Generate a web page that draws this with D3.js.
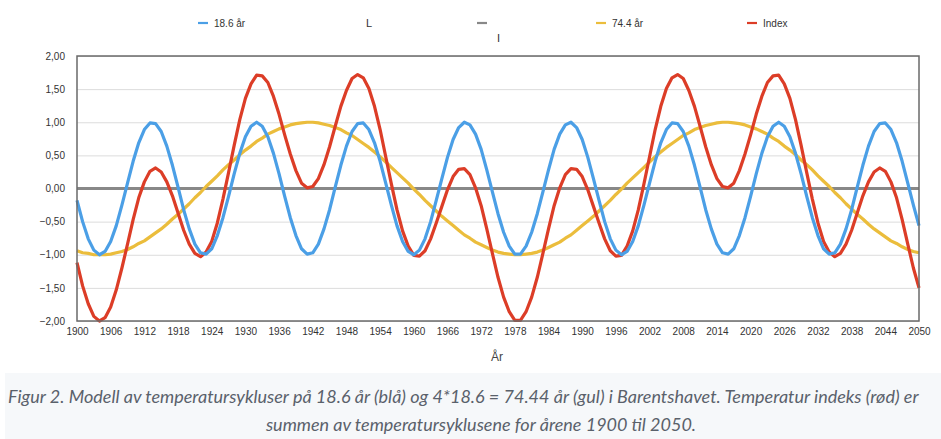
<!DOCTYPE html>
<html>
<head>
<meta charset="utf-8">
<style>
  html, body { margin: 0; padding: 0; background: #fff; overflow: hidden; }
  svg { display: block; }
</style>
</head>
<body>
<svg id="chart" width="941" height="439"></svg>
<script src="https://d3js.org/d3.v7.min.js"></script>
<script>

// years 1900..2050, one value per year
var startYear = 1900;

var blue = [
  -0.18,-0.50,-0.76,-0.93,-1.00,-0.95,-0.80,-0.56,-0.25, 0.08,
   0.41, 0.69, 0.89, 0.99, 0.98, 0.86, 0.64, 0.35, 0.02,-0.32,
  -0.61,-0.84,-0.97,-0.99,-0.91,-0.71,-0.44,-0.12, 0.22, 0.53,
   0.78, 0.94, 1.00, 0.94, 0.78, 0.53, 0.22,-0.12,-0.44,-0.71,
  -0.91,-0.99,-0.97,-0.84,-0.61,-0.32, 0.02, 0.35, 0.64, 0.86,
   0.98, 0.99, 0.89, 0.69, 0.41, 0.08,-0.25,-0.56,-0.80,-0.95,
  -1.00,-0.93,-0.76,-0.50,-0.18, 0.15, 0.47, 0.74, 0.92, 1.00,
   0.96, 0.82, 0.59, 0.28,-0.05,-0.38,-0.66,-0.87,-0.99,-0.99,
  -0.87,-0.66,-0.38,-0.05, 0.28, 0.59, 0.82, 0.96, 1.00, 0.92,
   0.74, 0.47, 0.15,-0.18,-0.50,-0.76,-0.93,-1.00,-0.95,-0.80,
  -0.56,-0.25, 0.08, 0.41, 0.69, 0.89, 0.99, 0.98, 0.86, 0.64,
   0.35, 0.02,-0.32,-0.61,-0.84,-0.97,-0.99,-0.91,-0.71,-0.44,
  -0.12, 0.22, 0.53, 0.78, 0.94, 1.00, 0.94, 0.78, 0.53, 0.22,
  -0.12,-0.44,-0.71,-0.91,-0.99,-0.97,-0.84,-0.61,-0.32, 0.02,
   0.35, 0.64, 0.86, 0.98, 0.99, 0.89, 0.69, 0.41, 0.08,-0.25,
  -0.56
];

var yellow = [
  -0.94,-0.97,-0.98,-1.00,-1.00,-1.00,-0.99,-0.97,-0.95,-0.92,
  -0.88,-0.83,-0.79,-0.73,-0.67,-0.61,-0.54,-0.46,-0.39,-0.31,
  -0.23,-0.14,-0.06, 0.03, 0.11, 0.19, 0.28, 0.36, 0.43, 0.51,
   0.58, 0.64, 0.71, 0.76, 0.82, 0.86, 0.90, 0.93, 0.96, 0.98,
   0.99, 1.00, 1.00, 0.99, 0.97, 0.95, 0.92, 0.89, 0.84, 0.80,
   0.74, 0.68, 0.62, 0.55, 0.48, 0.40, 0.32, 0.24, 0.16, 0.08,
  -0.01,-0.09,-0.18,-0.26,-0.34,-0.42,-0.49,-0.56,-0.63,-0.70,
  -0.75,-0.81,-0.85,-0.89,-0.93,-0.96,-0.98,-0.99,-1.00,-1.00,
  -0.99,-0.98,-0.96,-0.93,-0.89,-0.85,-0.81,-0.75,-0.70,-0.63,
  -0.56,-0.49,-0.42,-0.34,-0.26,-0.18,-0.09,-0.01, 0.08, 0.16,
   0.24, 0.32, 0.40, 0.48, 0.55, 0.62, 0.68, 0.74, 0.80, 0.84,
   0.89, 0.92, 0.95, 0.97, 0.99, 1.00, 1.00, 0.99, 0.98, 0.96,
   0.93, 0.90, 0.86, 0.82, 0.76, 0.71, 0.64, 0.58, 0.51, 0.43,
   0.36, 0.28, 0.19, 0.11, 0.03,-0.06,-0.14,-0.23,-0.31,-0.39,
  -0.46,-0.54,-0.61,-0.67,-0.73,-0.79,-0.83,-0.88,-0.92,-0.95,
  -0.97
];

var index = [
  -1.12,-1.47,-1.74,-1.93,-2.00,-1.95,-1.79,-1.53,-1.20,-0.84,
  -0.47,-0.14, 0.10, 0.26, 0.31, 0.25, 0.10,-0.11,-0.37,-0.63,
  -0.84,-0.98,-1.03,-0.96,-0.80,-0.52,-0.16, 0.24, 0.65, 1.04,
   1.36, 1.58, 1.71, 1.70, 1.60, 1.39, 1.12, 0.81, 0.52, 0.27,
   0.08, 0.01, 0.03, 0.15, 0.36, 0.63, 0.94, 1.24, 1.48, 1.66,
   1.72, 1.67, 1.51, 1.24, 0.89, 0.48, 0.07,-0.32,-0.64,-0.87,
  -1.01,-1.02,-0.94,-0.76,-0.52,-0.27,-0.02, 0.18, 0.29, 0.30,
   0.21, 0.01,-0.26,-0.61,-0.98,-1.34,-1.64,-1.86,-1.99,-1.99,
  -1.86,-1.64,-1.34,-0.98,-0.61,-0.26, 0.01, 0.21, 0.30, 0.29,
   0.18,-0.02,-0.27,-0.52,-0.76,-0.94,-1.02,-1.01,-0.87,-0.64,
  -0.32, 0.07, 0.48, 0.89, 1.24, 1.51, 1.67, 1.72, 1.66, 1.48,
   1.24, 0.94, 0.63, 0.36, 0.15, 0.03, 0.01, 0.08, 0.27, 0.52,
   0.81, 1.12, 1.39, 1.60, 1.70, 1.71, 1.58, 1.36, 1.04, 0.65,
   0.24,-0.16,-0.52,-0.80,-0.96,-1.03,-0.98,-0.84,-0.63,-0.37,
  -0.11, 0.10, 0.25, 0.31, 0.26, 0.10,-0.14,-0.47,-0.84,-1.20,
  -1.50
];

var xTicks = d3.range(1900, 2051, 6);
var yTicks = [-2, -1.5, -1, -0.5, 0, 0.5, 1, 1.5, 2];

var caption1 = "Figur 2. Modell av temperatursykluser på 18.6 år (blå) og 4*18.6 = 74.44 år (gul) i Barentshavet. Temperatur indeks (rød) er";
var caption2 = "summen av temperatursyklusene for årene 1900 til 2050.";

var colors = { blue: "#4b9fe6", yellow: "#ebbd3c", red: "#dc3d27", zero: "#888" };

var svg = d3.select("#chart"),
    margin = {top: 56, right: 22, bottom: 118, left: 77},
    width = 941 - margin.left - margin.right,
    height = 439 - margin.top - margin.bottom,
    g = svg.append("g").attr("transform", "translate(" + margin.left + "," + margin.top + ")");

var x = d3.scaleLinear().domain([1900, 2050]).range([0, width]);
var y = d3.scaleLinear().domain([-2, 2]).range([height, 0]);

var fmt = function(d) { return d3.format(".2f")(d).replace(".", ",").replace("-", "\u2212"); };

// grid
g.append("g")
    .call(d3.axisLeft(y).tickValues(yTicks).tickSize(-width).tickFormat(""))
    .call(function(a) { a.select(".domain").remove(); })
    .selectAll("line")
      .attr("stroke", "#dcdcdc")
      .attr("stroke-width", 1);

// y axis labels
g.append("g")
    .call(d3.axisLeft(y).tickValues(yTicks).tickSize(0).tickPadding(12).tickFormat(fmt))
    .call(function(a) { a.select(".domain").remove(); })
    .selectAll("text")
      .attr("fill", "#333")
      .style("font-family", "Liberation Sans, Arial, sans-serif")
      .style("font-size", "10px");

// x axis labels
g.append("g")
    .attr("transform", "translate(0," + height + ")")
    .call(d3.axisBottom(x).tickValues(xTicks).tickSize(0).tickPadding(7).tickFormat(d3.format("d")))
    .call(function(a) { a.select(".domain").remove(); })
    .selectAll("text")
      .attr("fill", "#333")
      .style("font-family", "Liberation Sans, Arial, sans-serif")
      .style("font-size", "10px");

// zero line
g.append("line")
    .attr("x1", 0).attr("x2", width)
    .attr("y1", y(0)).attr("y2", y(0))
    .attr("stroke", colors.zero)
    .attr("stroke-width", 3);

var line = d3.line()
    .x(function(d, i) { return x(startYear + i); })
    .y(function(d) { return y(d); });

function draw(data, color) {
  g.append("path")
      .datum(data)
      .attr("fill", "none")
      .attr("stroke", color)
      .attr("stroke-width", 3.2)
      .attr("stroke-linejoin", "round")
      .attr("d", line);
}

draw(yellow, colors.yellow);
draw(index, colors.red);
draw(blue, colors.blue);

// frame
g.append("rect")
    .attr("width", width).attr("height", height)
    .attr("fill", "none")
    .attr("stroke", "#6a6a6a")
    .attr("stroke-width", 1.5);

// axis title
svg.append("text")
    .attr("x", 497).attr("y", 361)
    .attr("text-anchor", "middle")
    .attr("fill", "#444")
    .style("font-family", "Liberation Sans, Arial, sans-serif")
    .style("font-size", "12px")
    .text("År");

// legend
var legend = svg.append("g")
    .style("font-family", "Liberation Sans, Arial, sans-serif")
    .style("font-size", "10px")
    .attr("fill", "#333");

var items = [
  {x: 198, color: colors.blue, label: "18.6 år"},
  {x: 477, color: colors.zero, label: ""},
  {x: 596, color: colors.yellow, label: "74.4 år"},
  {x: 747, color: colors.red, label: "Index"}
];
items.forEach(function(it) {
  legend.append("line")
      .attr("x1", it.x).attr("x2", it.x + 10)
      .attr("y1", 23).attr("y2", 23)
      .attr("stroke", it.color)
      .attr("stroke-width", 2.2);
  legend.append("text")
      .attr("x", it.x + 16).attr("y", 26.5)
      .text(it.label);
});
legend.append("text").attr("x", 366).attr("y", 27).style("font-size", "11px").text("L");
legend.append("text").attr("x", 497).attr("y", 42).style("font-size", "11px").text("I");

// caption
svg.append("rect")
    .attr("x", 5).attr("y", 373)
    .attr("width", 936).attr("height", 66)
    .attr("fill", "#f6f8fa");

var cap = svg.append("g")
    .style("font-family", "Lato, 'Open Sans', sans-serif")
    .style("font-style", "italic")
    .style("font-size", "18px")
    .attr("fill", "#5a616b");
cap.append("text").attr("x", 8).attr("y", 403).text(caption1);
cap.append("text").attr("x", 481).attr("y", 431).attr("text-anchor", "middle").text(caption2);

</script>
</body>
</html>
